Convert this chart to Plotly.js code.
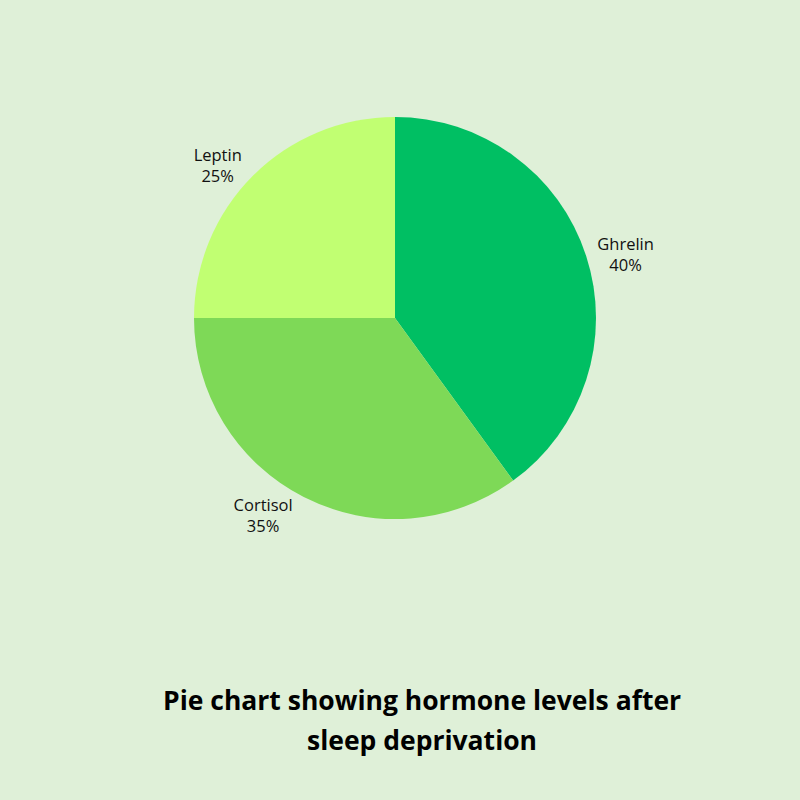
<!DOCTYPE html>
<html>
<head>
<meta charset="utf-8">
<script src="https://cdn.plot.ly/plotly-3.0.1.min.js"></script>
<style>html,body{margin:0;padding:0;background:#dff0d8;}#chart{width:800px;height:800px;}</style>
</head>
<body>
<div id="chart"></div>
<script>
const labels = ["Ghrelin", "Cortisol", "Leptin"];
const values = [40, 35, 25];
const colors = ["#00bf63", "#7ed957", "#c1ff72"];
const titleLines = ["Pie chart showing hormone levels after", "sleep deprivation"];

const trace = {
  type: "pie",
  labels: labels,
  values: values,
  sort: false,
  direction: "clockwise",
  rotation: 0,
  marker: {colors: colors, line: {width: 0}},
  textinfo: "label+percent",
  textposition: "outside",
  texttemplate: "%{label}<br>%{percent:.0%}",
  textfont: {family: "Open Sans, sans-serif", size: 16.5, color: "#111111"},
  outsidetextfont: {family: "Open Sans, sans-serif", size: 16.5, color: "#111111"},
  domain: {x: [0.2425, 0.745], y: [0.351, 0.854]},
  showlegend: false,
  hoverinfo: "label+percent"
};

const layout = {
  width: 800, height: 800,
  margin: {l: 0, r: 0, t: 0, b: 0},
  paper_bgcolor: "#dff0d8",
  plot_bgcolor: "#dff0d8",
  showlegend: false,
  annotations: titleLines.map((t, i) => ({
    text: "<b>" + t + "</b>",
    xref: "paper", yref: "paper",
    x: 0.527, y: i === 0 ? 0.1245 : 0.0745,
    xanchor: "center", yanchor: "middle",
    showarrow: false,
    align: "center",
    font: {family: "Open Sans, sans-serif", size: 26.5, color: "#000000"}
  }))
};

Plotly.newPlot("chart", [trace], layout, {displayModeBar: false, staticPlot: true});
</script>
</body>
</html>
